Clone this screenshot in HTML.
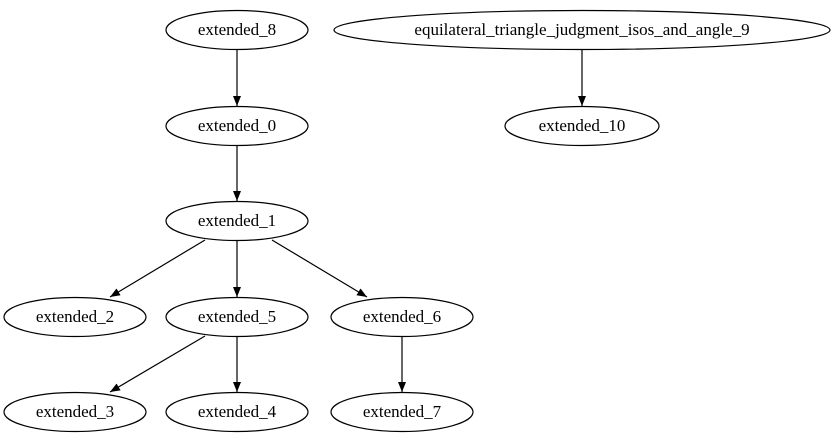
<!DOCTYPE html>
<html><head><meta charset="utf-8"><style>html,body{margin:0;padding:0;background:#fff}svg{display:block}</style></head>
<body>
<svg width="835" height="443" viewBox="0 0 835 443" xmlns="http://www.w3.org/2000/svg">
<defs>
<marker id="a" markerWidth="10" markerHeight="8" refX="10" refY="4" orient="auto" markerUnits="userSpaceOnUse">
<path d="M0,0 L10,4 L0,8 Z" fill="#000"/>
</marker>
</defs>
<g fill="none" stroke="#000" stroke-width="1.2">
<ellipse cx="237" cy="30" rx="71" ry="19.5"/>
<ellipse cx="582" cy="30" rx="248" ry="19.5"/>
<ellipse cx="237" cy="126" rx="71" ry="19.5"/>
<ellipse cx="582" cy="126" rx="77" ry="19.5"/>
<ellipse cx="237" cy="221" rx="71" ry="19.5"/>
<ellipse cx="75" cy="317" rx="71" ry="19.5"/>
<ellipse cx="237" cy="317" rx="71" ry="19.5"/>
<ellipse cx="402" cy="317" rx="71" ry="19.5"/>
<ellipse cx="75" cy="412" rx="71" ry="19.5"/>
<ellipse cx="237" cy="412" rx="71" ry="19.5"/>
<ellipse cx="402" cy="412" rx="71" ry="19.5"/>
<line x1="237" y1="50" x2="237" y2="106" marker-end="url(#a)"/>
<line x1="582" y1="50" x2="582" y2="106" marker-end="url(#a)"/>
<line x1="237" y1="146" x2="237" y2="201" marker-end="url(#a)"/>
<line x1="205" y1="240" x2="110" y2="297" marker-end="url(#a)"/>
<line x1="237" y1="241" x2="237" y2="297" marker-end="url(#a)"/>
<line x1="272" y1="240" x2="367" y2="297" marker-end="url(#a)"/>
<line x1="205" y1="336" x2="110" y2="392" marker-end="url(#a)"/>
<line x1="237" y1="337" x2="237" y2="392" marker-end="url(#a)"/>
<line x1="402" y1="337" x2="402" y2="392" marker-end="url(#a)"/>
</g>
<g font-family="Liberation Serif, serif" font-size="17" text-anchor="middle" fill="#000">
<text x="237" y="35">extended_8</text>
<text x="582" y="35">equilateral_triangle_judgment_isos_and_angle_9</text>
<text x="237" y="131">extended_0</text>
<text x="582" y="131">extended_10</text>
<text x="237" y="226">extended_1</text>
<text x="75" y="322">extended_2</text>
<text x="237" y="322">extended_5</text>
<text x="402" y="322">extended_6</text>
<text x="75" y="417">extended_3</text>
<text x="237" y="417">extended_4</text>
<text x="402" y="417">extended_7</text>
</g>
</svg>
</body></html>
